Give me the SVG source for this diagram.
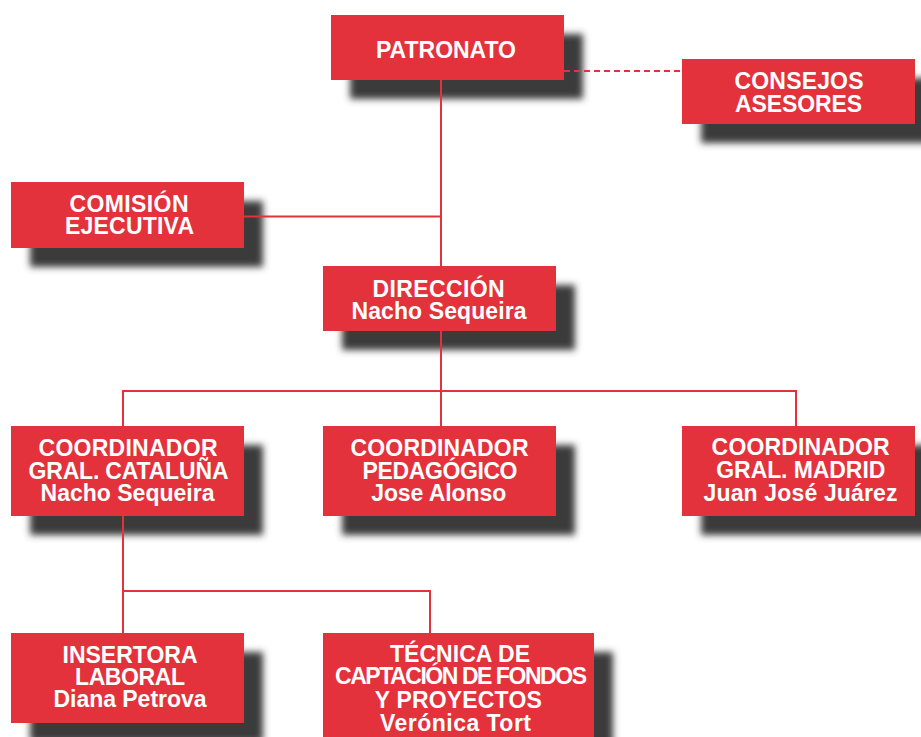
<svg xmlns="http://www.w3.org/2000/svg" width="921" height="737" viewBox="0 0 921 737">
<defs>
<filter id="sh" x="-20%" y="-30%" width="140%" height="160%">
<feGaussianBlur stdDeviation="3.5"/>
</filter>
</defs>
<style>
.box{fill:#e3323b}
.shadow{fill:#3a3a3a;filter:url(#sh)}
.t{font-family:"Liberation Sans",Arial,Helvetica,sans-serif;font-weight:bold;font-size:23px;fill:#ffffff;text-anchor:middle}
.c{stroke:#e3323b;stroke-width:2;fill:none}
.d{stroke:#e3323b;stroke-width:2;fill:none;stroke-dasharray:6 4}
</style>
<rect width="921" height="737" fill="#ffffff"/>
<g id="shadows">
<rect class="shadow" x="350" y="34" width="233" height="65"/>
<rect class="shadow" x="701" y="78" width="233" height="65"/>
<rect class="shadow" x="30" y="201" width="233" height="66"/>
<rect class="shadow" x="342" y="285" width="233" height="65"/>
<rect class="shadow" x="30" y="445" width="233" height="90"/>
<rect class="shadow" x="342" y="445" width="233" height="90"/>
<rect class="shadow" x="701" y="445" width="233" height="90"/>
<rect class="shadow" x="30" y="652" width="233" height="90"/>
<rect class="shadow" x="342" y="652" width="271" height="110"/>
</g>
<g id="connectors">
<path class="c" d="M441 80 V266"/>
<path class="c" d="M244 216.5 H441"/>
<path class="d" d="M564 71 H682"/>
<path class="c" d="M441 331 V426 M123 426 V391 H796 V426"/>
<path class="c" d="M123 516 V633 M123 591 H430 V633"/>
</g>
<g id="patronato">
<rect class="box" x="331" y="15" width="233" height="65"/>
<text class="t" x="446" y="58" textLength="140">PATRONATO</text>
</g>
<g id="consejos">
<rect class="box" x="682" y="59" width="233" height="65"/>
<text class="t" x="799" y="89" textLength="129">CONSEJOS</text>
<text class="t" x="798.5" y="112" textLength="127">ASESORES</text>
</g>
<g id="comision">
<rect class="box" x="11" y="182" width="233" height="66"/>
<text class="t" x="129" y="212" textLength="119">COMISIÓN</text>
<text class="t" x="129.5" y="234" textLength="129">EJECUTIVA</text>
</g>
<g id="direccion">
<rect class="box" x="323" y="266" width="233" height="65"/>
<text class="t" x="438.5" y="297" textLength="132">DIRECCIÓN</text>
<text class="t" x="439" y="318.5" textLength="175">Nacho Sequeira</text>
</g>
<g id="coord-cataluna">
<rect class="box" x="11" y="426" width="233" height="90"/>
<text class="t" x="128" y="455.5" textLength="179">COORDINADOR</text>
<text class="t" x="128.5" y="478.5" textLength="200">GRAL. CATALUÑA</text>
<text class="t" x="127.5" y="501" textLength="174">Nacho Sequeira</text>
</g>
<g id="coord-pedagogico">
<rect class="box" x="323" y="426" width="233" height="90"/>
<text class="t" x="439.5" y="455.5" textLength="178">COORDINADOR</text>
<text class="t" x="440" y="478.5" textLength="155">PEDAGÓGICO</text>
<text class="t" x="438.7" y="501" textLength="135">Jose Alonso</text>
</g>
<g id="coord-madrid">
<rect class="box" x="682" y="426" width="233" height="90"/>
<text class="t" x="800.6" y="455" textLength="178">COORDINADOR</text>
<text class="t" x="800.8" y="478" textLength="169">GRAL. MADRID</text>
<text class="t" x="800.5" y="501" textLength="194">Juan José Juárez</text>
</g>
<g id="insertora">
<rect class="box" x="11" y="633" width="233" height="90"/>
<text class="t" x="130" y="662.5" textLength="135">INSERTORA</text>
<text class="t" x="130" y="684.5" textLength="110">LABORAL</text>
<text class="t" x="130" y="707" textLength="153">Diana Petrova</text>
</g>
<g id="tecnica">
<rect class="box" x="323" y="633" width="271" height="110"/>
<text class="t" x="460" y="661.5" textLength="140">TÉCNICA DE</text>
<text class="t" x="461" y="684" textLength="252">CAPTACIÓN DE FONDOS</text>
<text class="t" x="458.3" y="708" textLength="167">Y PROYECTOS</text>
<text class="t" x="455.5" y="730.5" textLength="151">Verónica Tort</text>
</g>
</svg>
